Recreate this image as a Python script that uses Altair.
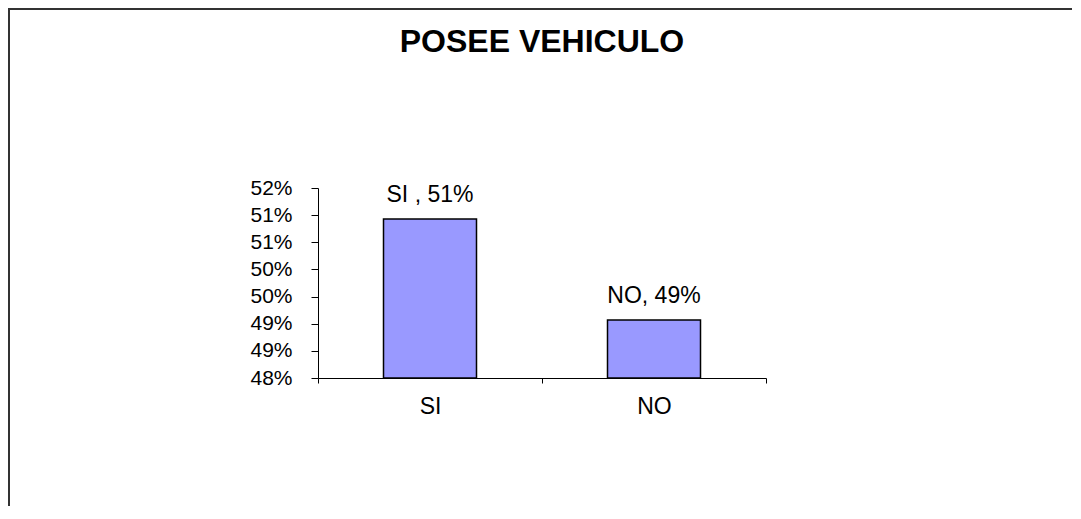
import altair as alt
import pandas as pd

categories = ["SI", "NO"]
values = [50.93, 49.07]
labels = ["SI , 51%", "NO, 49%"]
tick_values = [48, 48.5, 49, 49.5, 50, 50.5, 51, 51.5]

df = pd.DataFrame({"cat": categories, "val": values, "label": labels})

FONT = "Liberation Sans"

x = alt.X(
    "cat:N", sort=categories, title=None,
    scale=alt.Scale(paddingInner=0, paddingOuter=0),
    axis=alt.Axis(labelAngle=0, tickBand="extent", domainColor="black",
                  tickColor="black", tickSize=5, labelPadding=12,
                  labelFontSize=23, labelFont=FONT, labelColor="black",
                  grid=False),
)
y = alt.Y(
    "val:Q", title=None,
    scale=alt.Scale(domain=[tick_values[0], tick_values[-1]], nice=False, zero=False),
    axis=alt.Axis(values=tick_values, labelExpr="round(datum.value) + '%'",
                  grid=False, domainColor="black", tickColor="black",
                  tickSize=7, labelPadding=19, labelFontSize=21,
                  labelFont=FONT, labelColor="black", labelOverlap=False),
)

base = alt.Chart(df).encode(x=x, y=y)

bars = base.mark_bar(size=93, color="#9999FF", stroke="black",
                     strokeWidth=1.5).encode(y2=alt.datum(tick_values[0]))
text = base.mark_text(dy=-17, baseline="alphabetic", fontSize=23,
                      font=FONT, color="black").encode(text="label:N")

frame_left = alt.Chart(df).mark_rule(color="#333333", strokeWidth=2).encode(
    x=alt.value(-309), y=alt.value(-180), y2=alt.value(420))
frame_top = alt.Chart(df).mark_rule(color="#333333", strokeWidth=2).encode(
    x=alt.value(-310), x2=alt.value(820), y=alt.value(-179))

chart = alt.layer(frame_left, frame_top, bars, text).properties(
    width=448, height=190,
    background="white",
    title=alt.TitleParams("POSEE VEHICULO", font=FONT, fontSize=32,
                          fontWeight="bold", anchor="middle", offset=-52,
                          color="black"),
    autosize=alt.AutoSizeParams(type="none"),
    padding={"left": 310, "top": 180, "right": 306, "bottom": 128},
).configure_view(stroke=None)

chart.save("out.html", embed_options={"renderer": "svg", "actions": False})
